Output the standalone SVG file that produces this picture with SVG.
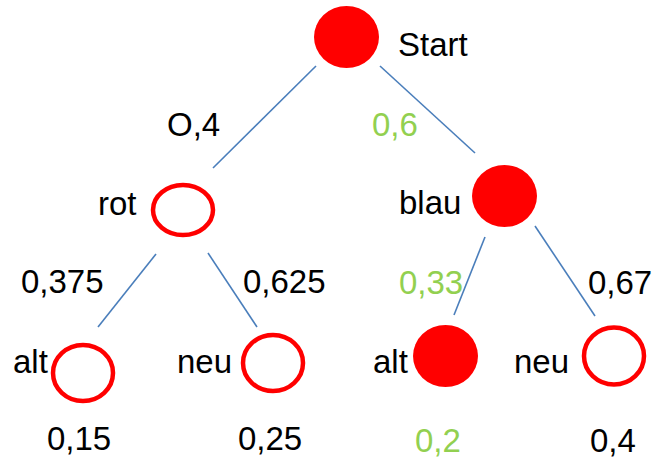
<svg xmlns="http://www.w3.org/2000/svg" width="655" height="461" viewBox="0 0 655 461">
<style>
text{font-family:"Liberation Sans",Arial,sans-serif;font-size:33px;fill:#000}
.g{fill:#92d050}
.full{fill:#ff0000;stroke:none}
.open{fill:#fff;stroke:#ff0000;stroke-width:4.5}
.e{stroke:#4a7ebb;stroke-width:1.6;fill:none}
</style>
<rect width="655" height="461" fill="#fff"/>
<g id="connectors">
<line class="e" x1="316" y1="66" x2="213" y2="168"/>
<line class="e" x1="380" y1="66" x2="475" y2="153"/>
<line class="e" x1="156" y1="254" x2="98" y2="327"/>
<line class="e" x1="208" y1="253" x2="257" y2="327"/>
<line class="e" x1="485" y1="237" x2="454" y2="315"/>
<line class="e" x1="535" y1="226" x2="595" y2="316"/>
</g>
<g id="edge-labels">
<text x="167" y="136">O,4</text>
<text class="g" x="372" y="136">0,6</text>
<text x="21" y="293">0,375</text>
<text x="243" y="293">0,625</text>
<text class="g" x="399" y="294">0,33</text>
<text x="588" y="294">0,67</text>
</g>
<g id="start"><ellipse class="full" cx="346.5" cy="37" rx="32.5" ry="31"/><text x="398" y="56">Start</text></g>
<g id="rot"><ellipse class="open" cx="183" cy="210" rx="30" ry="25"/><text x="98" y="215">rot</text></g>
<g id="blau"><ellipse class="full" cx="504.5" cy="196" rx="32.5" ry="31"/><text x="399" y="214">blau</text></g>
<g id="rot-alt"><ellipse class="open" cx="83" cy="373" rx="30" ry="28"/><text x="13" y="373">alt</text><text x="47" y="450">0,15</text></g>
<g id="rot-neu"><ellipse class="open" cx="273" cy="363" rx="30" ry="28"/><text x="177" y="373">neu</text><text x="238" y="450">0,25</text></g>
<g id="blau-alt"><ellipse class="full" cx="445.5" cy="356" rx="32.5" ry="31"/><text x="373" y="373">alt</text><text class="g" x="415" y="452">0,2</text></g>
<g id="blau-neu"><ellipse class="open" cx="614" cy="356" rx="30" ry="28.5"/><text x="514" y="373">neu</text><text x="590" y="452">0,4</text></g>
</svg>
